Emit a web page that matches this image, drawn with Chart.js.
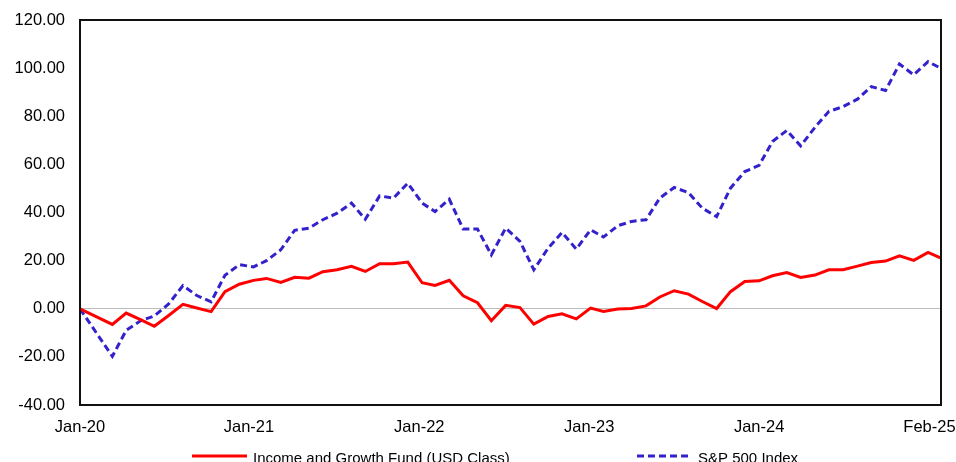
<!DOCTYPE html>
<html>
<head>
<meta charset="utf-8">
<title>Income and Growth Fund vs S&amp;P 500</title>
<script src="https://cdn.jsdelivr.net/npm/chart.js@4.4.1/dist/chart.umd.min.js"></script>
<style>
  html, body { margin: 0; padding: 0; background: #fff; }
  #wrap { width: 956px; height: 462px; }
</style>
</head>
<body>
<div id="wrap"><canvas id="perfChart"></canvas></div>
<script>
// data (cumulative return, %)
const dates = [
    '2020-01-21', '2020-03-31', '2020-04-30', '2020-05-31', '2020-06-30', '2020-07-31',
    '2020-08-31', '2020-09-30', '2020-10-31', '2020-11-30', '2020-12-31',
    '2021-01-31', '2021-02-28', '2021-03-31', '2021-04-30', '2021-05-31', '2021-06-30',
    '2021-07-31', '2021-08-31', '2021-09-30', '2021-10-31', '2021-11-30', '2021-12-31',
    '2022-01-31', '2022-02-28', '2022-03-31', '2022-04-30', '2022-05-31', '2022-06-30',
    '2022-07-31', '2022-08-31', '2022-09-30', '2022-10-31', '2022-11-30', '2022-12-31',
    '2023-01-31', '2023-02-28', '2023-03-31', '2023-04-30', '2023-05-31', '2023-06-30',
    '2023-07-31', '2023-08-31', '2023-09-30', '2023-10-31', '2023-11-30', '2023-12-31',
    '2024-01-31', '2024-02-29', '2024-03-31', '2024-04-30', '2024-05-31', '2024-06-30',
    '2024-07-31', '2024-08-31', '2024-09-30', '2024-10-31', '2024-11-30', '2024-12-31',
    '2025-01-31', '2025-02-28'
];

const fundValues = [
    0, -6.5, -1.8, -4.5, -7.3, -2.8, 1.8, 0.3, -1.2, 7.1, 10.2,
    11.8, 12.6, 10.9, 13.1, 12.7, 15.4, 16.2, 17.6, 15.5, 18.7, 18.7, 19.4,
    10.8, 9.7, 11.8, 5.4, 2.5, -5.0, 1.4, 0.5, -6.4, -3.2, -2.1, -4.2,
    0.3, -1.1, -0.1, 0.1, 1.2, 4.9, 7.5, 6.1, 3.0, 0.1, 7.1, 11.3,
    11.6, 13.7, 15.0, 13.0, 14.0, 16.2, 16.2, 17.7, 19.2, 19.8, 22.0, 20.1,
    23.4, 21.0
];

const indexValues = [
    0, -19.8, -9.0, -5.0, -3.0, 2.0, 9.6, 5.5, 2.9, 13.9, 18.3,
    17.4, 20.0, 24.5, 32.6, 33.5, 37.0, 39.7, 43.9, 37.2, 46.9, 46.0, 52.2,
    43.9, 40.4, 45.5, 33.1, 33.1, 22.4, 33.5, 28.0, 16.2, 25.2, 31.7, 24.8,
    32.8, 29.8, 34.5, 36.3, 37.0, 46.0, 50.4, 48.3, 41.8, 38.3, 50.1, 57.0,
    59.6, 69.5, 74.1, 67.7, 75.4, 82.0, 84.0, 87.1, 92.3, 90.7, 101.7, 97.2,
    102.7, 99.9
];

const seriesNames = ['Income and Growth Fund (USD Class)', 'S&P 500 Index'];

const tickDates = ['2020-01-21', '2021-01-21', '2022-01-25', '2023-01-28', '2024-01-31', '2025-02-03'];
const tickLabels = ['Jan-20', 'Jan-21', 'Jan-22', 'Jan-23', 'Jan-24', 'Feb-25'];

const FONT = "'Liberation Sans', Arial, sans-serif";

// date string -> day number, used as x value on a linear axis
function toDay(s) {
    return Date.parse(s + 'T00:00:00Z') / 86400000;
}

const fundPoints = dates.map((d, i) => ({ x: toDay(d), y: fundValues[i] }));
const indexPoints = dates.map((d, i) => ({ x: toDay(d), y: indexValues[i] }));

// frame round the plot area
const framePlugin = {
    id: 'frame',
    afterDatasetsDraw(chart) {
        const a = chart.chartArea;
        const ctx = chart.ctx;
        ctx.save();
        ctx.strokeStyle = '#111';
        ctx.lineWidth = 2;
        ctx.strokeRect(a.left, a.top, a.right - a.left, a.bottom - a.top);
        ctx.restore();
    }
};

// legend under the axis, line sample + label
const legendPlugin = {
    id: 'bottomLegend',
    afterDraw(chart) {
        const ctx = chart.ctx;
        const a = chart.chartArea;
        const starts = [a.left + 112, a.left + 557];
        const y = 456;
        ctx.save();
        chart.data.datasets.forEach((ds, i) => {
            const x0 = starts[i];
            ctx.beginPath();
            ctx.strokeStyle = ds.borderColor;
            ctx.lineWidth = ds.borderWidth;
            ctx.setLineDash(ds.borderDash || []);
            ctx.moveTo(x0, y);
            ctx.lineTo(x0 + 55, y);
            ctx.stroke();
            ctx.setLineDash([]);
            ctx.fillStyle = '#000';
            ctx.font = '15px ' + FONT;
            ctx.textBaseline = 'alphabetic';
            ctx.textAlign = 'left';
            ctx.fillText(ds.label, x0 + 61, 463);
        });
        ctx.restore();
    }
};

const ctx = document.getElementById('perfChart');

new Chart(ctx, {
    type: 'line',
    data: {
        datasets: [{
            label: seriesNames[0],
            data: fundPoints,
            borderColor: '#ff0000',
            backgroundColor: '#ff0000',
            borderWidth: 3,
            pointRadius: 0,
            tension: 0,
            fill: false
        }, {
            label: seriesNames[1],
            data: indexPoints,
            borderColor: '#3322cc',
            backgroundColor: '#3322cc',
            borderWidth: 3,
            borderDash: [7, 4],
            pointRadius: 0,
            tension: 0,
            fill: false
        }]
    },
    options: {
        responsive: true,
        maintainAspectRatio: false,
        devicePixelRatio: 1,
        animation: false,
        layout: {
            padding: { top: 20, right: 15, bottom: 0, left: 0 }
        },
        plugins: {
            legend: { display: false },
            tooltip: { enabled: false }
        },
        scales: {
            x: {
                type: 'linear',
                min: toDay(dates[0]),
                max: toDay(dates[dates.length - 1]),
                afterBuildTicks(scale) {
                    scale.ticks = tickDates.map(d => ({ value: toDay(d) }));
                },
                afterFit(scale) {
                    scale.height = 57;
                    scale.paddingLeft = 0;
                    scale.paddingRight = 0;
                },
                grid: { display: false, drawTicks: false },
                border: { display: false },
                ticks: {
                    autoSkip: false,
                    maxRotation: 0,
                    padding: 13,
                    color: '#000',
                    font: { family: FONT, size: 16.5 },
                    callback: (v, i) => tickLabels[i]
                }
            },
            y: {
                min: -40,
                max: 120,
                afterFit(scale) {
                    scale.width = 80;
                    scale.paddingTop = 0;
                    scale.paddingBottom = 0;
                },
                grid: {
                    drawTicks: false,
                    lineWidth: 1,
                    color: c => (c.tick && c.tick.value === 0) ? '#bdbdbd' : 'rgba(0,0,0,0)'
                },
                border: { display: false },
                ticks: {
                    stepSize: 20,
                    padding: 15,
                    color: '#000',
                    font: { family: FONT, size: 16.5 },
                    callback: v => v.toFixed(2)
                }
            }
        }
    },
    plugins: [framePlugin, legendPlugin]
});
</script>
</body>
</html>
